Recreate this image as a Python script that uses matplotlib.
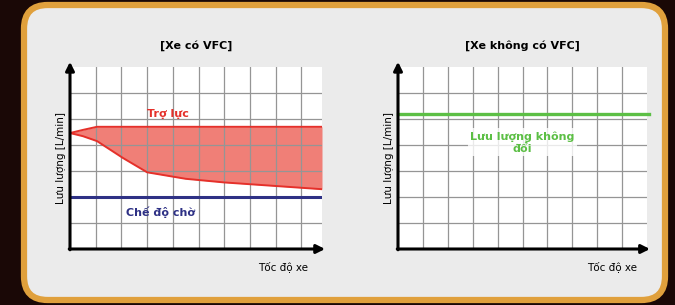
import matplotlib.pyplot as plt
from matplotlib.patches import FancyBboxPatch

plt.rcParams["font.family"] = ["DejaVu Sans"]

# left chart: "with VFC"
speed_vfc = [0.0, 0.5, 1.05, 2.06, 3.0, 4.5, 6.0, 9.8]
assist_upper = [4.46, 4.58, 4.7, 4.7, 4.7, 4.7, 4.7, 4.7]
assist_lower = [4.46, 4.34, 4.15, 3.5, 2.95, 2.7, 2.56, 2.3]
standby_speed = [0.0, 9.8]
standby_flow = [2.0, 2.0]

# right chart: "without VFC"
const_speed = [0.0, 10.1]
const_flow = [5.19, 5.19]

BG = "#1a0806"
BORDER = "#e0a03c"
PANEL = "#ebebeb"
RED = "#e5302a"
NAVY = "#2e3185"
GREEN = "#5cbf45"
GRID = "#959595"

W, H = 675, 305
fig = plt.figure(figsize=(W / 100, H / 100), dpi=100)
fig.patch.set_facecolor(BG)

frame = FancyBboxPatch((24 / W, 5 / H), 641 / W, 295 / H,
                       boxstyle="round,pad=0,rounding_size=0.035",
                       transform=fig.transFigure, facecolor=PANEL,
                       edgecolor=BORDER, linewidth=4.5, mutation_aspect=W / H,
                       zorder=-10)
fig.patches.append(frame)


def make_axes(left_px, right_px, xmax):
    top_px, bottom_px = 67, 249
    ax = fig.add_axes([left_px / W, (H - bottom_px) / H,
                       (right_px - left_px) / W, (bottom_px - top_px) / H])
    ax.set_facecolor("white")
    ax.set_xlim(0, xmax)
    ax.set_ylim(0, 7)
    ax.set_xticks(range(1, 10 if xmax < 10 else 10))
    ax.set_yticks(range(1, 7))
    ax.grid(True, color=GRID, linewidth=0.9)
    ax.tick_params(length=0, labelbottom=False, labelleft=False)
    for s in ax.spines.values():
        s.set_visible(False)
    arrow = dict(arrowstyle="-|>,head_length=0.5,head_width=0.25", lw=2.2, color="black",
                 shrinkA=0, shrinkB=0)
    ax.annotate("", xy=(xmax + 0.12, 0), xytext=(-0.03, 0), arrowprops=arrow,
                annotation_clip=False)
    ax.annotate("", xy=(0, 7.2), xytext=(0, -0.03), arrowprops=arrow,
                annotation_clip=False)
    ax.set_ylabel("Lưu lượng [L/min]", fontsize=7.5, labelpad=3)
    return ax


ax1 = make_axes(70, 322, 9.8)
ax1.fill_between(speed_vfc, assist_lower, assist_upper, color="#f07870", alpha=0.95,
                 linewidth=0)
ax1.plot(speed_vfc, assist_upper, color=RED, lw=1.4)
ax1.plot(speed_vfc, assist_lower, color=RED, lw=1.4)
ax1.plot(standby_speed, standby_flow, color=NAVY, lw=2.2)
ax1.text(3.8, 5.2, "Trợ lực", color=RED, fontsize=8, fontweight="bold",
         ha="center", va="center")
ax1.text(3.5, 1.42, "Chế độ chờ", color=NAVY, fontsize=8, fontweight="bold",
         ha="center", va="center")
ax1.set_title("[Xe có VFC]", fontsize=8, fontweight="bold", pad=13)
fig.text(283 / W, (H - 267) / H, "Tốc độ xe", fontsize=7.5, ha="center", va="center")

ax2 = make_axes(398, 647, 10.0)
ax2.plot(const_speed, const_flow, color=GREEN, lw=2.4, clip_on=False)
ax2.text(5.0, 4.1, "Lưu lượng không\nđổi", color=GREEN, fontsize=8,
         fontweight="bold", ha="center", va="center", linespacing=1.25,
         bbox=dict(facecolor="white", edgecolor="none", alpha=0.8, pad=2))
ax2.set_title("[Xe không có VFC]", fontsize=8, fontweight="bold", pad=13)
fig.text(612 / W, (H - 267) / H, "Tốc độ xe", fontsize=7.5, ha="center", va="center")

fig.savefig("out.png", dpi=100, facecolor=BG)
